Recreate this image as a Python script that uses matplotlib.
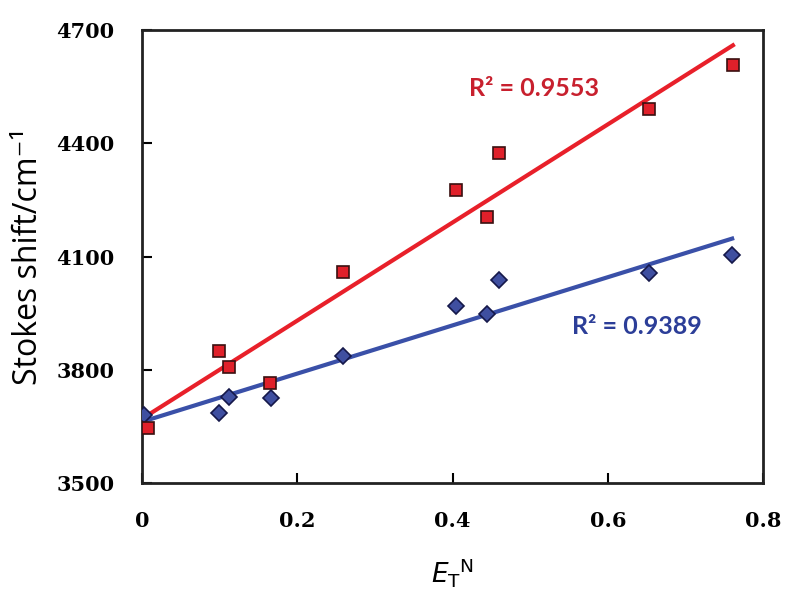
import matplotlib
matplotlib.use('Agg')
import matplotlib.pyplot as plt
import numpy as np

# E_T^N values and Stokes shifts
et_red = [0.008, 0.099, 0.112, 0.165, 0.259, 0.405, 0.444, 0.460, 0.653, 0.761]
shift_red = [3646, 3850, 3807, 3765, 4059, 4276, 4205, 4374, 4491, 4607]

et_blue = [0.003, 0.099, 0.112, 0.166, 0.259, 0.405, 0.444, 0.460, 0.653, 0.760]
shift_blue = [3680, 3685, 3728, 3725, 3836, 3969, 3948, 4038, 4056, 4104]

r2_red = '0.9553'
r2_blue = '0.9389'

fig = plt.figure(figsize=(8, 6.05), dpi=100)
ax = fig.add_axes([0.1775, 0.2017, 0.7765, 0.7483])

# linear trend lines (least squares, like excel)
for xs, ys, c in [(et_red, shift_red, '#e8202a'), (et_blue, shift_blue, '#3a50a8')]:
    k, b = np.polyfit(xs, ys, 1)
    xx = np.array([min(xs), max(xs)])
    ax.plot(xx, k*xx+b, color=c, lw=3, zorder=2)

ax.plot(et_blue, shift_blue, 'D', ms=8, mfc='#3f4fa0', mec='#15184a', mew=1.2, zorder=3)
ax.plot(et_red, shift_red, 's', ms=8.5, mfc='#e0202a', mec='#3a1010', mew=1.2, zorder=4)

ax.text(0.505, 4546, 'R² = ' + r2_red, color='#c8202e', fontsize=18,
        fontweight='bold', family='Lato', ha='center', va='center')
ax.text(0.637, 3916, 'R² = ' + r2_blue, color='#2c3e98', fontsize=18,
        fontweight='bold', family='Lato', ha='center', va='center')

ax.set_xlim(0, 0.8)
ax.set_ylim(3500, 4700)
ax.set_xticks([0, 0.2, 0.4, 0.6, 0.8])
ax.set_xticklabels(['0', '0.2', '0.4', '0.6', '0.8'])
ax.set_yticks([3500, 3800, 4100, 4400, 4700])

for s in ax.spines.values():
    s.set_linewidth(2)
    s.set_color('#222222')
ax.tick_params(direction='in', length=7, width=1.5, pad=20)
for lab in ax.get_xticklabels() + ax.get_yticklabels():
    lab.set_family('DejaVu Serif')
    lab.set_fontweight('bold')
    lab.set_fontsize(15)

ax.set_ylabel('Stokes shift/cm⁻¹', fontsize=23, family=['Open Sans', 'DejaVu Sans'], labelpad=8)
ax.set_xlabel(r'$E_{\mathrm{T}}$$^{\mathrm{N}}$', fontsize=19, labelpad=18)

fig.savefig('out.png', dpi=100)
